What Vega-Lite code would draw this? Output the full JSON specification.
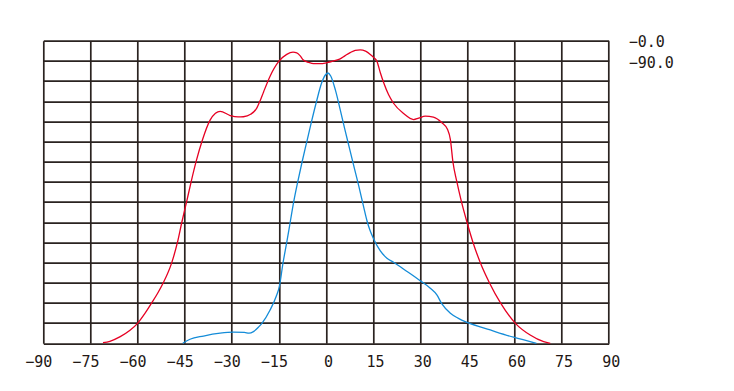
{
  "$schema": "https://vega.github.io/schema/vega-lite/v6.json",
  "autosize": "none",
  "width": 565.4,
  "height": 302.6,
  "padding": {"left": 43.3, "top": 40.7, "right": 125.3, "bottom": 47.7},
  "background": "white",
  "config": {
    "view": {"stroke": null},
    "font": "DejaVu Sans Mono"
  },
  "data": {
    "values": [
      {"plane": "−0.0", "angle": -71, "value": 0.03},
      {"plane": "−0.0", "angle": -68.8, "value": 0.1},
      {"plane": "−0.0", "angle": -65.5, "value": 0.33},
      {"plane": "−0.0", "angle": -62.5, "value": 0.63},
      {"plane": "−0.0", "angle": -60, "value": 0.99},
      {"plane": "−0.0", "angle": -57.7, "value": 1.47},
      {"plane": "−0.0", "angle": -55.5, "value": 2.0},
      {"plane": "−0.0", "angle": -53.6, "value": 2.48},
      {"plane": "−0.0", "angle": -51.8, "value": 3.0},
      {"plane": "−0.0", "angle": -49.1, "value": 4.0},
      {"plane": "−0.0", "angle": -47.3, "value": 5.0},
      {"plane": "−0.0", "angle": -45.9, "value": 6.0},
      {"plane": "−0.0", "angle": -44.4, "value": 7.0},
      {"plane": "−0.0", "angle": -42.9, "value": 8.03},
      {"plane": "−0.0", "angle": -41.3, "value": 9.04},
      {"plane": "−0.0", "angle": -39.4, "value": 10.05},
      {"plane": "−0.0", "angle": -36.9, "value": 11.06},
      {"plane": "−0.0", "angle": -35.2, "value": 11.4},
      {"plane": "−0.0", "angle": -33.7, "value": 11.5},
      {"plane": "−0.0", "angle": -30.5, "value": 11.29},
      {"plane": "−0.0", "angle": -28, "value": 11.22},
      {"plane": "−0.0", "angle": -26.3, "value": 11.23},
      {"plane": "−0.0", "angle": -24, "value": 11.35},
      {"plane": "−0.0", "angle": -22.0, "value": 11.67},
      {"plane": "−0.0", "angle": -20.9, "value": 12.05},
      {"plane": "−0.0", "angle": -19.9, "value": 12.45},
      {"plane": "−0.0", "angle": -17.8, "value": 13.24},
      {"plane": "−0.0", "angle": -15.1, "value": 13.96},
      {"plane": "−0.0", "angle": -12.5, "value": 14.32},
      {"plane": "−0.0", "angle": -10.5, "value": 14.43},
      {"plane": "−0.0", "angle": -9.3, "value": 14.4},
      {"plane": "−0.0", "angle": -8.2, "value": 14.25},
      {"plane": "−0.0", "angle": -7.2, "value": 14.04},
      {"plane": "−0.0", "angle": -5.5, "value": 13.92},
      {"plane": "−0.0", "angle": -4.0, "value": 13.86},
      {"plane": "−0.0", "angle": -2.0, "value": 13.86},
      {"plane": "−0.0", "angle": 0.3, "value": 13.91},
      {"plane": "−0.0", "angle": 2.5, "value": 14.0},
      {"plane": "−0.0", "angle": 4.5, "value": 14.1},
      {"plane": "−0.0", "angle": 6.0, "value": 14.25},
      {"plane": "−0.0", "angle": 7.7, "value": 14.41},
      {"plane": "−0.0", "angle": 9.3, "value": 14.52},
      {"plane": "−0.0", "angle": 10.9, "value": 14.55},
      {"plane": "−0.0", "angle": 12.6, "value": 14.48},
      {"plane": "−0.0", "angle": 14.1, "value": 14.32},
      {"plane": "−0.0", "angle": 15.3, "value": 14.15},
      {"plane": "−0.0", "angle": 16.2, "value": 13.98},
      {"plane": "−0.0", "angle": 17.3, "value": 13.41},
      {"plane": "−0.0", "angle": 18.4, "value": 12.9},
      {"plane": "−0.0", "angle": 19.9, "value": 12.33},
      {"plane": "−0.0", "angle": 21.5, "value": 11.9},
      {"plane": "−0.0", "angle": 24.7, "value": 11.39},
      {"plane": "−0.0", "angle": 27.9, "value": 11.09},
      {"plane": "−0.0", "angle": 29.5, "value": 11.16},
      {"plane": "−0.0", "angle": 31.6, "value": 11.26},
      {"plane": "−0.0", "angle": 34.2, "value": 11.21},
      {"plane": "−0.0", "angle": 36.9, "value": 10.93},
      {"plane": "−0.0", "angle": 38.7, "value": 10.6},
      {"plane": "−0.0", "angle": 39.6, "value": 10.1},
      {"plane": "−0.0", "angle": 40.4, "value": 9.0},
      {"plane": "−0.0", "angle": 41.6, "value": 8.05},
      {"plane": "−0.0", "angle": 43.0, "value": 7.1},
      {"plane": "−0.0", "angle": 44.8, "value": 6.05},
      {"plane": "−0.0", "angle": 46.8, "value": 5.0},
      {"plane": "−0.0", "angle": 49.2, "value": 3.97},
      {"plane": "−0.0", "angle": 52.1, "value": 2.98},
      {"plane": "−0.0", "angle": 55.6, "value": 1.99},
      {"plane": "−0.0", "angle": 60.3, "value": 0.99},
      {"plane": "−0.0", "angle": 65.0, "value": 0.41},
      {"plane": "−0.0", "angle": 69.3, "value": 0.08},
      {"plane": "−0.0", "angle": 71.4, "value": 0.0},
      {"plane": "−90.0", "angle": -45.6, "value": 0.0},
      {"plane": "−90.0", "angle": -43.3, "value": 0.2},
      {"plane": "−90.0", "angle": -39, "value": 0.36},
      {"plane": "−90.0", "angle": -33.7, "value": 0.5},
      {"plane": "−90.0", "angle": -29.5, "value": 0.55},
      {"plane": "−90.0", "angle": -26, "value": 0.54},
      {"plane": "−90.0", "angle": -24.5, "value": 0.5},
      {"plane": "−90.0", "angle": -23.1, "value": 0.58},
      {"plane": "−90.0", "angle": -21.5, "value": 0.8},
      {"plane": "−90.0", "angle": -20.4, "value": 0.99},
      {"plane": "−90.0", "angle": -17.8, "value": 1.65},
      {"plane": "−90.0", "angle": -15.9, "value": 2.31},
      {"plane": "−90.0", "angle": -14.8, "value": 2.85},
      {"plane": "−90.0", "angle": -13.7, "value": 3.97},
      {"plane": "−90.0", "angle": -12.5, "value": 5.0},
      {"plane": "−90.0", "angle": -11.4, "value": 6.0},
      {"plane": "−90.0", "angle": -10.3, "value": 7.0},
      {"plane": "−90.0", "angle": -9.0, "value": 8.0},
      {"plane": "−90.0", "angle": -7.6, "value": 9.0},
      {"plane": "−90.0", "angle": -6.1, "value": 10.0},
      {"plane": "−90.0", "angle": -4.6, "value": 11.0},
      {"plane": "−90.0", "angle": -3.0, "value": 12.0},
      {"plane": "−90.0", "angle": -1.4, "value": 12.9},
      {"plane": "−90.0", "angle": -0.2, "value": 13.3},
      {"plane": "−90.0", "angle": 0.6, "value": 13.4},
      {"plane": "−90.0", "angle": 1.5, "value": 13.25},
      {"plane": "−90.0", "angle": 3.0, "value": 12.55},
      {"plane": "−90.0", "angle": 4.5, "value": 11.6},
      {"plane": "−90.0", "angle": 6.0, "value": 10.6},
      {"plane": "−90.0", "angle": 7.5, "value": 9.65},
      {"plane": "−90.0", "angle": 9.0, "value": 8.7},
      {"plane": "−90.0", "angle": 10.5, "value": 7.75},
      {"plane": "−90.0", "angle": 12.0, "value": 6.75},
      {"plane": "−90.0", "angle": 13.0, "value": 6.1},
      {"plane": "−90.0", "angle": 14.0, "value": 5.6},
      {"plane": "−90.0", "angle": 15.1, "value": 5.2},
      {"plane": "−90.0", "angle": 17.3, "value": 4.58},
      {"plane": "−90.0", "angle": 19.4, "value": 4.22},
      {"plane": "−90.0", "angle": 21.5, "value": 4.02},
      {"plane": "−90.0", "angle": 25.8, "value": 3.56},
      {"plane": "−90.0", "angle": 30.0, "value": 3.1},
      {"plane": "−90.0", "angle": 33.2, "value": 2.73},
      {"plane": "−90.0", "angle": 35.3, "value": 2.4},
      {"plane": "−90.0", "angle": 36.9, "value": 1.95},
      {"plane": "−90.0", "angle": 39.6, "value": 1.49},
      {"plane": "−90.0", "angle": 42.0, "value": 1.25},
      {"plane": "−90.0", "angle": 45.2, "value": 1.02},
      {"plane": "−90.0", "angle": 52.3, "value": 0.66},
      {"plane": "−90.0", "angle": 59.7, "value": 0.3},
      {"plane": "−90.0", "angle": 67.0, "value": 0.0}
    ]
  },
  "mark": {"type": "line", "interpolate": "monotone", "strokeWidth": 1.3},
  "encoding": {
    "x": {
      "field": "angle",
      "type": "quantitative",
      "scale": {"domain": [-90, 90], "nice": false, "zero": false},
      "axis": {
        "title": null,
        "values": [-90, -75, -60, -45, -30, -15, 0, 15, 30, 45, 60, 75, 90],
        "grid": true,
        "gridColor": "#2a2320",
        "gridWidth": 1.7,
        "gridOpacity": 1,
        "ticks": false,
        "domain": false,
        "labelFont": "DejaVu Sans Mono",
        "labelFontSize": 15,
        "labelColor": "#231815",
        "labelPadding": 11,
        "labelFlush": false,
        "labelOverlap": false,
        "labelOffset": {"condition": {"test": "datum.value < 0", "value": -5}, "value": 2}
      }
    },
    "y": {
      "field": "value",
      "type": "quantitative",
      "scale": {"domain": [0, 15], "nice": false},
      "axis": {
        "title": null,
        "values": [0, 1, 2, 3, 4, 5, 6, 7, 8, 9, 10, 11, 12, 13, 14, 15],
        "grid": true,
        "gridColor": "#2a2320",
        "gridWidth": 1.7,
        "gridOpacity": 1,
        "ticks": false,
        "domain": false,
        "labels": false
      }
    },
    "color": {
      "field": "plane",
      "type": "nominal",
      "scale": {"domain": ["−0.0", "−90.0"], "range": ["#e60023", "#148cd8"]},
      "legend": {
        "title": null,
        "orient": "none",
        "legendX": 570.4,
        "legendY": -6,
        "padding": 0,
        "symbolSize": 0,
        "symbolOpacity": 0,
        "symbolStrokeWidth": 0,
        "labelOffset": 0,
        "rowPadding": 5,
        "labelFont": "DejaVu Sans Mono",
        "labelFontSize": 15,
        "labelColor": "#231815"
      }
    }
  }
}
